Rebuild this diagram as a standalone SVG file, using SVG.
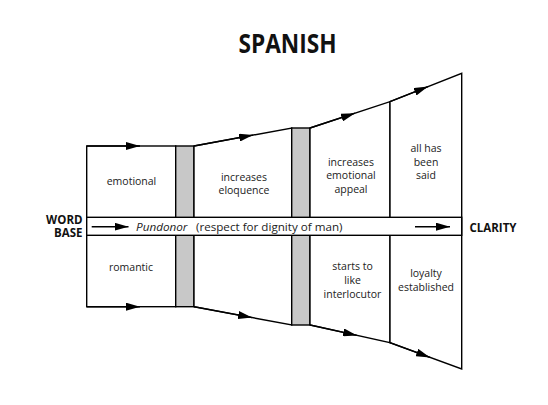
<svg xmlns="http://www.w3.org/2000/svg" width="548" height="405" viewBox="0 0 548 405">
<style>
.box{fill:#fff;stroke:#000;stroke-width:1.4;stroke-linejoin:miter}
.bar{fill:#c8c8c8;stroke:#000;stroke-width:1.4}
.lbl{font-family:"Open Sans","Liberation Sans",sans-serif;font-size:10.5px;fill:#222;text-anchor:middle}
.bold{font-family:"Open Sans","Liberation Sans",sans-serif;font-size:11.5px;font-weight:bold;fill:#111}
.arr{stroke:#000;stroke-width:1.4;fill:none}
</style>
<defs>
<marker id="ah" viewBox="0 0 14 8" refX="14" refY="4" markerWidth="14" markerHeight="8" markerUnits="userSpaceOnUse" orient="auto">
<path d="M0,0 L14,4 L0,8 Z" fill="#000"/>
</marker>
</defs>
<rect width="548" height="405" fill="#fff"/>
<text x="287.5" y="52.5" text-anchor="middle" font-family="'Open Sans','Liberation Sans',sans-serif" font-weight="bold" font-size="26" textLength="98" lengthAdjust="spacingAndGlyphs" fill="#111">SPANISH</text>
<g id="col1">
<rect class="box" x="86.7" y="146" width="89" height="160.7"/>
<text class="lbl" x="131.5" y="185">emotional</text>
<text class="lbl" x="131" y="271">romantic</text>
</g>
<g id="bar1"><rect class="bar" x="175.7" y="146" width="18.3" height="160.7"/></g>
<g id="col2">
<polygon class="box" points="194,146 291.7,128 291.7,325 194,306.7"/>
<text class="lbl" x="244" y="181">increases</text>
<text class="lbl" x="244" y="194">eloquence</text>
</g>
<g id="bar2"><rect class="bar" x="291.7" y="128" width="18.3" height="197"/></g>
<g id="col3">
<polygon class="box" points="310,128 390,101.7 390,342.7 310,325"/>
<text class="lbl" x="351" y="165.5">increases</text>
<text class="lbl" x="351" y="179">emotional</text>
<text class="lbl" x="351" y="192.5">appeal</text>
<text class="lbl" x="352.5" y="270">starts to</text>
<text class="lbl" x="352.5" y="284">like</text>
<text class="lbl" x="352.5" y="297.5">interlocutor</text>
</g>
<g id="col4">
<polygon class="box" points="390,101.7 461.7,73.3 461.7,369 390,342.7"/>
<text class="lbl" x="426" y="152">all has</text>
<text class="lbl" x="426" y="165.5">been</text>
<text class="lbl" x="426" y="179">said</text>
<text class="lbl" x="426" y="276.5">loyalty</text>
<text class="lbl" x="426" y="290.5">established</text>
</g>
<g id="band">
<rect class="box" x="86.7" y="217.3" width="375" height="18"/>
<text class="lbl" x="136" y="230.8" style="text-anchor:start;font-size:11.5px"><tspan font-style="italic" textLength="51.5" lengthAdjust="spacingAndGlyphs">Pundonor</tspan><tspan x="196" textLength="146.5" lengthAdjust="spacingAndGlyphs">(respect for dignity of man)</tspan></text>
</g>
<g id="wordbase">
<text class="bold" x="82.5" y="223.5" text-anchor="end">WORD</text>
<text class="bold" x="82.5" y="237" text-anchor="end">BASE</text>
</g>
<g id="clarity"><text class="bold" x="469.5" y="232">CLARITY</text></g>
<g id="connectors">
<line class="arr" x1="86.7" y1="146" x2="140" y2="146" marker-end="url(#ah)"/>
<line class="arr" x1="194" y1="146" x2="253" y2="135.1" marker-end="url(#ah)"/>
<line class="arr" x1="310" y1="128" x2="355" y2="113.2" marker-end="url(#ah)"/>
<line class="arr" x1="390" y1="101.7" x2="428" y2="86.6" marker-end="url(#ah)"/>
<line class="arr" x1="86.7" y1="306.7" x2="140" y2="306.7" marker-end="url(#ah)"/>
<line class="arr" x1="194" y1="306.7" x2="252" y2="317.6" marker-end="url(#ah)"/>
<line class="arr" x1="310" y1="325" x2="357" y2="335.4" marker-end="url(#ah)"/>
<line class="arr" x1="390" y1="342.7" x2="430" y2="357.4" marker-end="url(#ah)"/>
<line class="arr" x1="91.7" y1="226.7" x2="128.5" y2="226.7" marker-end="url(#ah)"/>
<line class="arr" x1="415" y1="226.7" x2="450" y2="226.7" marker-end="url(#ah)"/>
</g>
</svg>
